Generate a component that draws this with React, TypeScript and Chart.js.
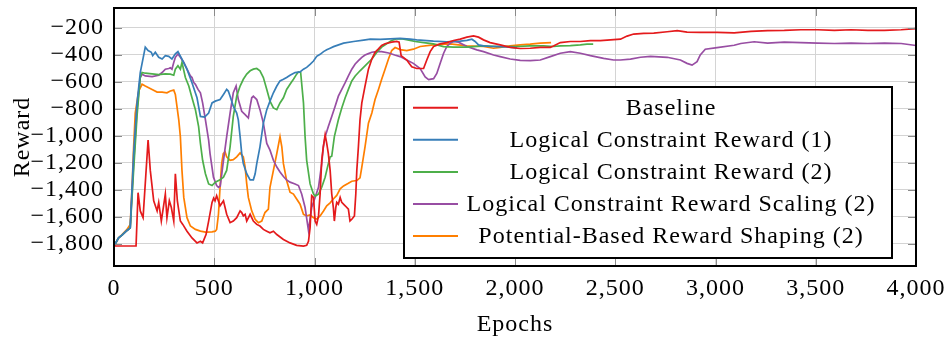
import React, { useEffect, useRef } from 'react';
import { Chart, registerables } from 'chart.js';

Chart.register(...registerables);

const seriesLabels = [
  'Baseline',
  'Logical Constraint Reward (1)',
  'Logical Constraint Reward (2)',
  'Logical Constraint Reward Scaling (2)',
  'Potential-Based Reward Shaping (2)',
];
const seriesColors = ['#e41a1c', '#377eb8', '#4daf4a', '#984ea3', '#ff7f00'];

const xTickValues = [0, 500, 1000, 1500, 2000, 2500, 3000, 3500, 4000];
const yTickValues = [-1800, -1600, -1400, -1200, -1000, -800, -600, -400, -200];

const baselineEpochs = [0,110,120,131,145,170,181,198,215,223,236,256,264,276,286,298,306,316,331,343,364,389,414,431,442,459,472,489,497,504,512,529,546,562,579,595,612,629,637,645,654,662,679,695,712,728,745,762,778,795,812,845,878,911,945,961,970,978,986,995,1003,1011,1020,1028,1036,1044,1053,1061,1069,1078,1086,1094,1099,1106,1111,1119,1128,1136,1153,1169,1177,1186,1199,1206,1211,1219,1227,1236,1252,1269,1286,1302,1319,1335,1352,1385,1410,1422,1432,1460,1485,1510,1544,1560,1577,1594,1627,1660,1694,1727,1760,1793,1818,1843,1876,1926,1976,2026,2076,2126,2176,2192,2226,2276,2326,2376,2426,2476,2526,2559,2592,2642,2692,2759,2809,2858,2924,3008,3093,3177,3260,3343,3426,3510,3593,3676,3760,3843,3926,4000];
const baselineReward = [-1815,-1815,-1420,-1555,-1605,-1030,-1255,-1480,-1555,-1492,-1630,-1430,-1605,-1480,-1530,-1630,-1280,-1480,-1630,-1655,-1705,-1755,-1792,-1780,-1792,-1730,-1630,-1492,-1460,-1480,-1442,-1517,-1480,-1580,-1642,-1630,-1605,-1555,-1567,-1592,-1580,-1630,-1580,-1630,-1655,-1667,-1692,-1705,-1717,-1705,-1730,-1767,-1792,-1810,-1815,-1810,-1780,-1680,-1442,-1455,-1630,-1655,-1592,-1430,-1180,-1080,-992,-1055,-1130,-1255,-1430,-1530,-1630,-1530,-1492,-1505,-1455,-1492,-1517,-1542,-1630,-1617,-1592,-1430,-1255,-1080,-880,-755,-630,-505,-430,-380,-355,-330,-317,-305,-300,-305,-405,-437,-487,-500,-500,-437,-375,-337,-318,-308,-293,-283,-268,-258,-268,-288,-308,-325,-343,-352,-350,-343,-343,-333,-308,-300,-300,-293,-293,-288,-283,-260,-245,-240,-238,-228,-220,-230,-232,-233,-236,-225,-220,-218,-213,-213,-218,-213,-218,-218,-213,-205];

const lcr1Epochs = [0,23,40,65,81,98,115,131,156,170,186,193,206,223,240,256,273,289,306,319,339,364,389,414,431,452,472,489,505,529,546,562,570,579,595,612,620,629,637,645,662,679,695,704,712,728,745,762,778,795,812,828,845,861,878,903,928,945,961,978,995,1011,1028,1045,1061,1078,1095,1120,1145,1195,1245,1278,1328,1378,1427,1477,1510,1560,1593,1660,1727,1760,1785,1801,1818,1843,1877,1926,1976,2009];
const lcr1Reward = [-1815,-1755,-1735,-1700,-1680,-1130,-755,-530,-342,-367,-380,-405,-380,-417,-430,-405,-410,-430,-392,-375,-430,-505,-605,-717,-855,-860,-830,-755,-742,-730,-692,-655,-667,-705,-780,-830,-880,-1005,-1130,-1205,-1280,-1325,-1325,-1280,-1205,-1080,-905,-805,-742,-680,-630,-592,-580,-567,-550,-530,-525,-505,-492,-470,-445,-410,-395,-375,-362,-350,-338,-325,-312,-300,-290,-283,-285,-280,-277,-283,-288,-293,-297,-302,-298,-292,-283,-300,-325,-333,-337,-338,-342,-348];

const lcr2Epochs = [0,23,40,65,81,98,115,131,140,156,190,223,256,281,298,306,319,331,339,356,373,389,406,422,431,442,456,472,489,505,529,546,562,579,595,612,629,645,662,679,695,712,728,745,762,778,795,812,828,845,861,878,895,911,920,931,945,953,961,978,995,1003,1020,1036,1053,1069,1078,1086,1099,1119,1136,1153,1169,1186,1203,1227,1252,1286,1311,1335,1360,1385,1410,1432,1452,1477,1502,1545,1593,1643,1693,1760,1843,1926,2009,2075,2142,2192,2226,2276,2326,2359,2390];
const lcr2Reward = [-1815,-1755,-1735,-1700,-1680,-1250,-850,-567,-530,-535,-540,-545,-540,-542,-550,-505,-480,-505,-455,-567,-630,-717,-805,-930,-1055,-1180,-1280,-1355,-1367,-1342,-1325,-1305,-1255,-1080,-855,-705,-630,-580,-542,-517,-505,-500,-517,-567,-655,-742,-792,-805,-755,-717,-655,-617,-580,-542,-525,-530,-755,-1005,-1180,-1355,-1430,-1445,-1430,-1380,-1305,-1205,-1155,-1150,-1005,-880,-792,-717,-655,-592,-555,-517,-480,-430,-380,-342,-317,-292,-280,-280,-285,-292,-300,-308,-318,-338,-342,-342,-333,-337,-337,-333,-333,-337,-333,-330,-325,-320,-320];

const lcrsEpochs = [0,23,40,65,81,98,115,131,140,156,190,223,240,256,273,281,289,298,306,319,331,348,364,381,389,398,406,419,431,442,456,472,479,496,512,521,530,546,562,579,595,609,620,637,654,670,679,687,695,712,728,745,762,778,795,812,828,845,861,878,903,920,936,953,970,986,1003,1020,1036,1044,1053,1069,1086,1103,1119,1136,1153,1169,1186,1203,1219,1236,1252,1269,1286,1310,1335,1370,1400,1427,1460,1493,1527,1552,1569,1594,1610,1627,1644,1660,1677,1694,1718,1760,1810,1843,1893,1926,1976,2026,2076,2126,2176,2226,2276,2326,2376,2442,2492,2526,2576,2626,2676,2759,2825,2858,2883,2908,2924,2949,3008,3093,3126,3193,3260,3343,3426,3510,3593,3676,3760,3843,3926,4000];
const lcrsReward = [-1815,-1755,-1735,-1700,-1680,-1200,-800,-567,-542,-555,-560,-550,-530,-505,-500,-495,-505,-455,-417,-392,-417,-455,-505,-555,-567,-605,-617,-655,-680,-755,-880,-1030,-1130,-1305,-1367,-1380,-1370,-1180,-1005,-830,-680,-630,-730,-817,-842,-867,-780,-717,-705,-730,-805,-905,-1055,-1105,-1180,-1230,-1267,-1300,-1325,-1342,-1355,-1367,-1430,-1530,-1700,-1530,-1455,-1380,-1205,-1080,-1005,-930,-855,-780,-705,-655,-605,-555,-505,-467,-442,-417,-400,-390,-380,-375,-375,-385,-400,-412,-437,-462,-500,-562,-582,-575,-537,-462,-387,-337,-312,-300,-305,-337,-362,-375,-400,-412,-430,-440,-442,-437,-412,-387,-375,-387,-405,-425,-437,-437,-430,-417,-410,-417,-437,-462,-475,-450,-400,-357,-345,-328,-315,-302,-312,-305,-308,-312,-315,-312,-315,-312,-315,-330];

const pbrsEpochs = [0,23,40,65,81,90,98,106,123,140,156,173,190,215,240,264,281,298,306,323,331,339,348,364,381,406,431,456,489,505,512,521,529,537,545,554,562,579,595,612,629,645,654,662,670,687,704,720,737,753,770,778,795,812,828,837,845,861,878,895,911,928,945,961,978,995,1011,1028,1045,1061,1078,1094,1111,1128,1145,1169,1186,1211,1227,1236,1252,1269,1286,1302,1319,1335,1352,1369,1385,1402,1427,1460,1493,1527,1593,1677,1760,1843,1893,1926,1976,2026,2076,2126,2180];
const pbrsReward = [-1815,-1755,-1730,-1692,-1655,-1380,-1080,-830,-667,-617,-630,-642,-655,-675,-675,-680,-667,-660,-692,-880,-1005,-1255,-1455,-1605,-1667,-1692,-1705,-1712,-1710,-1705,-1692,-1580,-1380,-1205,-1130,-1117,-1155,-1180,-1175,-1155,-1125,-1155,-1230,-1355,-1455,-1555,-1617,-1642,-1630,-1567,-1542,-1380,-1255,-1130,-1005,-1080,-1205,-1330,-1417,-1430,-1467,-1505,-1580,-1592,-1585,-1605,-1615,-1592,-1555,-1517,-1495,-1467,-1440,-1392,-1370,-1350,-1335,-1330,-1310,-1230,-1080,-905,-830,-730,-655,-580,-505,-430,-367,-345,-360,-367,-357,-337,-325,-318,-333,-337,-350,-343,-333,-325,-320,-312,-308];

const seriesEpochs = [baselineEpochs, lcr1Epochs, lcr2Epochs, lcrsEpochs, pbrsEpochs];
const seriesRewards = [baselineReward, lcr1Reward, lcr2Reward, lcrsReward, pbrsReward];

const FONT = "'Liberation Serif', 'DejaVu Serif', serif";
const FONT_SIZE = 24;
const LETTER_SPACING = '1px';

function fmt(v: number): string {
  const s = Math.abs(v).toLocaleString('en-US');
  return v < 0 ? '\u2212' + s : s;
}

const spacingPlugin = {
  id: 'spacing',
  beforeUpdate(chart: any) {
    chart.ctx.letterSpacing = LETTER_SPACING;
  },
  beforeDraw(chart: any) {
    chart.ctx.letterSpacing = LETTER_SPACING;
  },
};

const decorPlugin = {
  id: 'decor',
  afterDatasetsDraw(chart: any) {
    const { ctx, chartArea, scales } = chart;
    const { left, right, top, bottom } = chartArea;
    const xs = scales.x;
    const ys = scales.y;
    ctx.save();
    ctx.strokeStyle = '#8a8a8a';
    ctx.lineWidth = 1;
    const tl = 8;
    ctx.beginPath();
    xs.ticks.forEach((t: any) => {
      const px = Math.round(xs.getPixelForValue(t.value)) + 0.5;
      ctx.moveTo(px, bottom);
      ctx.lineTo(px, bottom - tl);
      ctx.moveTo(px, top);
      ctx.lineTo(px, top + tl);
    });
    ys.ticks.forEach((t: any) => {
      const py = Math.round(ys.getPixelForValue(t.value)) + 0.5;
      ctx.moveTo(left, py);
      ctx.lineTo(left + tl, py);
      ctx.moveTo(right, py);
      ctx.lineTo(right - tl, py);
    });
    ctx.stroke();
    ctx.strokeStyle = '#000';
    ctx.lineWidth = 2;
    ctx.strokeRect(left, top, right - left, bottom - top);

    // legend box
    const bl = left + 290;
    const bt = top + 79;
    const br = right - 24;
    const bb = bottom - 8;
    ctx.fillStyle = '#fff';
    ctx.fillRect(bl, bt, br - bl, bb - bt);
    ctx.strokeStyle = '#000';
    ctx.lineWidth = 2;
    ctx.strokeRect(bl, bt, br - bl, bb - bt);
    ctx.font = `${FONT_SIZE}px ${FONT}`;
    ctx.letterSpacing = LETTER_SPACING;
    ctx.textAlign = 'center';
    ctx.textBaseline = 'alphabetic';
    chart.data.datasets.forEach((ds: any, i: number) => {
      const cy = bt + 20.7 + i * 32.1;
      ctx.strokeStyle = ds.borderColor;
      ctx.lineWidth = 2;
      ctx.beginPath();
      ctx.moveTo(bl + 9, cy);
      ctx.lineTo(bl + 54, cy);
      ctx.stroke();
      ctx.fillStyle = '#000';
      ctx.fillText(ds.label, bl + 267, cy + 7);
    });
    ctx.restore();
  },
};

function zeroPadding(s: any) {
  s.paddingTop = 0;
  s.paddingBottom = 0;
  s.paddingLeft = 0;
  s.paddingRight = 0;
}

export default function App() {
  const ref = useRef<HTMLCanvasElement | null>(null);

  useEffect(() => {
    if (!ref.current) return;
    const datasets = seriesLabels.map((label, i) => ({
      label,
      data: seriesEpochs[i].map((e, j) => ({ x: e, y: seriesRewards[i][j] })),
      borderColor: seriesColors[i],
      backgroundColor: seriesColors[i],
      borderWidth: 1.7,
      pointRadius: 0,
      tension: 0,
      fill: false,
    }));
    const chart = new Chart(ref.current, {
      type: 'line',
      data: { datasets },
      plugins: [spacingPlugin, decorPlugin],
      options: {
        responsive: false,
        maintainAspectRatio: false,
        animation: false,
        devicePixelRatio: 1,
        layout: { padding: { left: 0, right: 30, top: 8, bottom: 0 } },
        plugins: { legend: { display: false }, tooltip: { enabled: false } },
        scales: {
          x: {
            type: 'linear',
            min: 0,
            max: 4000,
            afterBuildTicks: (s: any) => {
              s.ticks = xTickValues.map((v) => ({ value: v }));
            },
            afterFit: (s: any) => {
              s.height = 73;
              zeroPadding(s);
            },
            grid: { color: '#d4d4d4', lineWidth: 1, drawTicks: false },
            border: { display: false },
            ticks: {
              padding: 8,
              color: '#000',
              font: { family: FONT, size: FONT_SIZE },
              maxRotation: 0,
              autoSkip: false,
              callback: (v: any) => fmt(Number(v)),
            },
            title: {
              display: true,
              text: 'Epochs',
              color: '#000',
              font: { family: FONT, size: FONT_SIZE },
              padding: { top: 0, bottom: 0 },
            },
          },
          y: {
            type: 'linear',
            min: -1963,
            max: -52,
            afterBuildTicks: (s: any) => {
              s.ticks = yTickValues.map((v) => ({ value: v }));
            },
            afterFit: (s: any) => {
              s.width = 114;
              zeroPadding(s);
            },
            grid: { color: '#d4d4d4', lineWidth: 1, drawTicks: false },
            border: { display: false },
            ticks: {
              padding: 10,
              color: '#000',
              font: { family: FONT, size: FONT_SIZE },
              autoSkip: false,
              callback: (v: any) => fmt(Number(v)),
            },
            title: {
              display: true,
              text: 'Reward',
              color: '#000',
              font: { family: FONT, size: FONT_SIZE },
              padding: { top: 8, bottom: 0 },
            },
          },
        },
      },
    });
    return () => chart.destroy();
  }, []);

  return (
    <div style={{ position: 'fixed', left: 0, top: 0, width: 946, height: 339, background: '#fff' }}>
      <canvas ref={ref} width={946} height={339} style={{ display: 'block', width: 946, height: 339 }} />
    </div>
  );
}
